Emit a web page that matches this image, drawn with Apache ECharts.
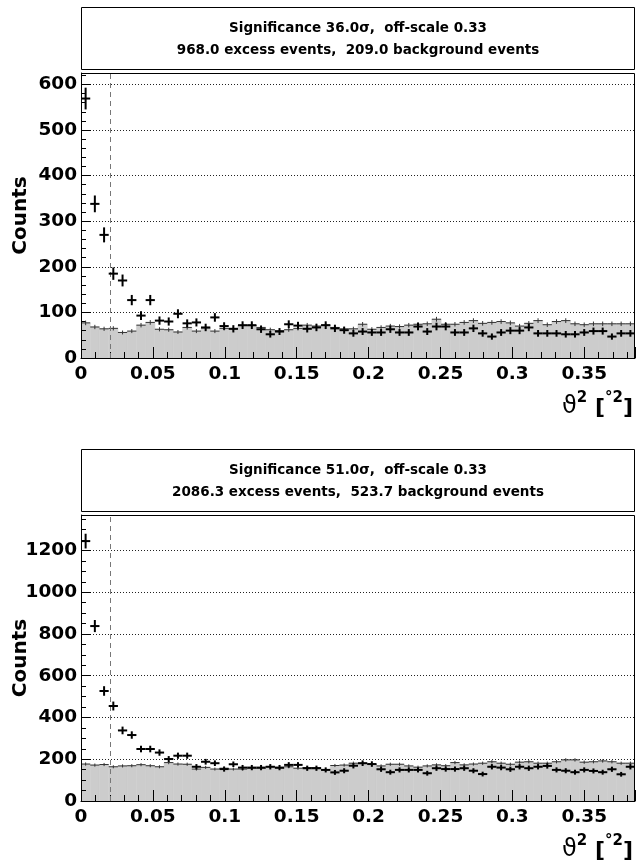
<!DOCTYPE html>
<html><head><meta charset="utf-8">
<script src="https://cdn.jsdelivr.net/npm/echarts@6/dist/echarts.min.js"></script>
<style>html,body{margin:0;padding:0;background:#fff}#c{width:636px;height:866px}</style>
</head><body><div id="c"></div>
<script>
// ---- data ----
const xRange = [0, 0.3853];
const nBins = 60;
const thetaCut = 0.0195;
const offScale = 0.33;
const yMaxTop = 625;
const yMaxBottom = 1370;
const onTop = [569,338,270,185,170,127,93,127,82,80, 97,76,78,67,89,70,64,72,72,63,
  52,58,74,71,64,67,72,65,61,54, 58,56,56,63,56,56,69,58,69,69,
  56,56,65,54,47,56,60,60,67,54, 54,54,52,52,56,59,59,47,54,54];
const offTop = [77,68,64,65,56,59,72,78,63,62, 57,67,59,66,59,65,64,71,71,67,
  62,60,62,65,72,70,72,67,64,64, 74,63,67,70,69,72,74,75,85,74,
  74,78,82,76,78,80,77,70,76,82, 73,80,82,75,73,75,75,75,75,75];
const onBottom = [1245,838,527,455,338,316,249,249,232,201, 217,217,164,188,181,153,176,160,160,160,
  164,160,173,173,157,157,149,137,145,169, 181,177,152,138,149,149,149,133,157,153,
  153,157,145,129,164,160,152,164,157,164, 168,149,145,138,149,144,138,152,128,164];
const offBottom = [177,172,174.7,164,168,169,174,169,164,184, 177,176,153,161,153,157,153,153,157,157,
  164,157,164,157,160,160,149,170,172,181, 181,176,168,176,176,168,162,168,173,169,
  184,173,177,181,188,181,176,186,188,181, 181,188,197,197,186,188,192,188,181,181];
const titleTop = ['Significance 36.0\u03c3,  off-scale 0.33', '968.0 excess events,  209.0 background events'];
const titleBottom = ['Significance 51.0\u03c3,  off-scale 0.33', '2086.3 excess events,  523.7 background events'];
const yTitle = 'Counts';

// ---- layout ----
const FONT = 'DejaVu Sans';
const panels = [
  {on: onTop, off: offTop, ymax: yMaxTop, yInt: 100, yMinor: 5, title: titleTop,
   grid: {left: 81, top: 73, width: 554, height: 285}, box: 7.5},
  {on: onBottom, off: offBottom, ymax: yMaxBottom, yInt: 200, yMinor: 4, title: titleBottom,
   grid: {left: 81, top: 515, width: 554, height: 286}, box: 449.5}
];
const binW = (xRange[1] - xRange[0]) / nBins;

function hist(values, errFn) {
  return values.map((v, i) => [xRange[0] + i * binW, xRange[0] + (i + 1) * binW, v, errFn(v)]);
}
function fillRender(params, api) {
  const a = api.coord([api.value(0), api.value(2)]);
  const b = api.coord([api.value(1), 0]);
  return {type: 'rect', shape: {x: a[0], y: a[1], width: b[0] - a[0], height: b[1] - a[1]},
    style: {fill: '#cccccc', stroke: '#cccccc', lineWidth: 0.6}};
}
function crossRender(lw, color) {
  return function (params, api) {
    const x0 = api.value(0), x1 = api.value(1), v = api.value(2), e = api.value(3);
    const xc = (x0 + x1) / 2;
    const a = api.coord([x0, v]), b = api.coord([x1, v]);
    const t = api.coord([xc, v + e]), u = api.coord([xc, v - e]);
    return {type: 'group', children: [
      {type: 'line', shape: {x1: a[0], y1: a[1], x2: b[0], y2: b[1]}, style: {stroke: color, lineWidth: lw}},
      {type: 'line', shape: {x1: t[0], y1: t[1], x2: u[0], y2: u[1]}, style: {stroke: color, lineWidth: lw}}
    ]};
  };
}

const option = {animation: false, backgroundColor: '#fff', grid: [], xAxis: [], yAxis: [], series: [], graphic: []};
const labelStyle = {fontFamily: FONT, fontWeight: 'bold', fontSize: 18.5, color: '#000',
  formatter: v => String(+v.toFixed(4))};

panels.forEach((p, k) => {
  option.grid.push(Object.assign({show: false}, p.grid));
  option.xAxis.push({gridIndex: k, type: 'value', min: xRange[0], max: xRange[1], interval: 0.05, z: 3,
    axisLine: {show: true, onZero: false, lineStyle: {color: '#000', width: 1}},
    axisTick: {show: true, inside: true, length: 11, lineStyle: {color: '#000'}},
    minorTick: {show: true, splitNumber: 5, length: 6, lineStyle: {color: '#000'}},
    axisLabel: Object.assign({margin: 7, showMaxLabel: false}, labelStyle),
    splitLine: {show: false}});
  option.yAxis.push({gridIndex: k, type: 'value', min: 0, max: p.ymax, interval: p.yInt, z: 3,
    axisLine: {show: true, lineStyle: {color: '#000', width: 1}},
    axisTick: {show: true, inside: true, length: 10, lineStyle: {color: '#000'}},
    minorTick: {show: true, splitNumber: p.yMinor, length: 5, lineStyle: {color: '#000'}},
    axisLabel: Object.assign({margin: 4, showMaxLabel: false}, labelStyle),
    splitLine: {show: true, lineStyle: {color: '#222', width: 1, type: [1, 2]}}});
  option.series.push({type: 'custom', xAxisIndex: k, yAxisIndex: k, z: 1, clip: true,
    renderItem: fillRender, encode: {x: [0, 1], y: 2},
    data: hist(p.off, v => Math.sqrt(v * offScale))});
  option.series.push({type: 'custom', xAxisIndex: k, yAxisIndex: k, z: 4, clip: true,
    renderItem: crossRender(1, '#333'), encode: {x: [0, 1], y: 2},
    data: hist(p.off, v => Math.sqrt(v * offScale))});
  option.series.push({type: 'custom', xAxisIndex: k, yAxisIndex: k, z: 5, clip: true,
    renderItem: crossRender(2, '#000'), encode: {x: [0, 1], y: 2},
    data: hist(p.on, v => Math.sqrt(v)),
    markLine: {silent: true, symbol: 'none', label: {show: false},
      lineStyle: {color: '#777', type: [5, 4], width: 1},
      data: [{xAxis: thetaCut}]}});
  const g = p.grid;
  // frame
  option.graphic.push({type: 'rect', z: 10, shape: {x: g.left + 0.5, y: g.top + 0.5, width: g.width - 1, height: g.height},
    style: {fill: 'none', stroke: '#000', lineWidth: 1}});
  // title box
  option.graphic.push({type: 'rect', z: 10, shape: {x: g.left + 0.5, y: p.box, width: g.width - 1, height: 62},
    style: {fill: '#fff', stroke: '#000', lineWidth: 1}});
  p.title.forEach((t, j) => {
    option.graphic.push({type: 'text', z: 11, x: g.left + g.width / 2, y: p.box + 21 + j * 22,
      style: {text: t, font: 'bold 13.5px "' + FONT + '"', fill: '#000',
        textAlign: 'center', textVerticalAlign: 'middle', align: 'center', verticalAlign: 'middle'}});
  });
  // y title
  option.graphic.push({type: 'text', z: 11, x: 21, y: g.top + g.height / 2, rotation: Math.PI / 2,
    style: {text: yTitle, font: 'bold 20px "' + FONT + '"', fill: '#000',
      textAlign: 'center', textVerticalAlign: 'middle', align: 'center', verticalAlign: 'middle'}});
  // x title
  option.graphic.push({type: 'text', z: 11, x: 633, y: g.top + g.height + 47,
    style: {text: '{g|\u03d1}{s|2}{b| [}{s|\u00b02}{b|]}', fill: '#000',
      textAlign: 'right', textVerticalAlign: 'middle', align: 'right', verticalAlign: 'middle',
      rich: {
        g: {fontFamily: FONT, fontSize: 24, lineHeight: 28, verticalAlign: 'bottom'},
        b: {fontFamily: FONT, fontWeight: 'bold', fontSize: 22, lineHeight: 28, verticalAlign: 'bottom'},
        s: {fontFamily: FONT, fontWeight: 'bold', fontSize: 15, lineHeight: 15, verticalAlign: 'top'}
      }}});
});

const chart = echarts.init(document.getElementById('c'), null, {renderer: 'canvas'});
chart.setOption(option);
</script></body></html>
